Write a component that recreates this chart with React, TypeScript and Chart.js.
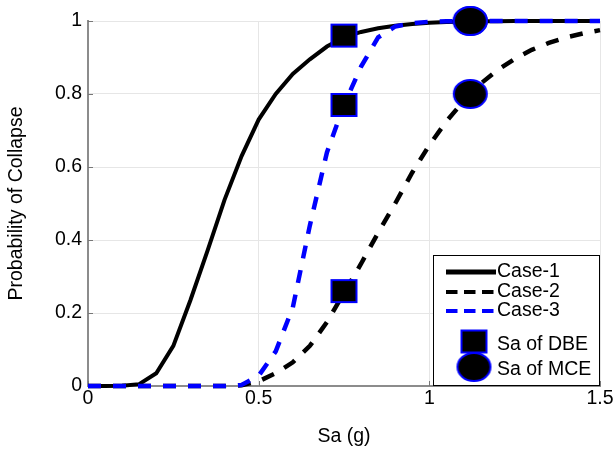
import React, { useEffect, useRef } from "react";
import { Chart, registerables } from "chart.js";

Chart.register(...registerables);

// ---- data ----
const saValues = [
  0, 0.05, 0.1, 0.15, 0.2, 0.25, 0.3, 0.35, 0.4, 0.45, 0.5, 0.55, 0.6, 0.65, 0.7, 0.75,
  0.8, 0.85, 0.9, 0.95, 1.0, 1.05, 1.1, 1.15, 1.2, 1.25, 1.3, 1.35, 1.4, 1.45, 1.5,
];
const case1 = [
  0, 0, 0.0005, 0.005, 0.035, 0.11, 0.235, 0.37, 0.51, 0.63, 0.73, 0.8, 0.855, 0.895, 0.93, 0.955,
  0.97, 0.98, 0.987, 0.992, 0.995, 0.997, 0.998, 0.999, 0.999, 1, 1, 1, 1, 1, 1,
];
const case2 = [
  0, 0, 0, 0, 0, 0, 0, 0, 0, 0.002, 0.013, 0.035, 0.065, 0.11, 0.175, 0.255,
  0.335, 0.42, 0.5, 0.585, 0.66, 0.725, 0.78, 0.828, 0.866, 0.896, 0.921, 0.94, 0.955, 0.966, 0.975,
];
const case3 = [
  0, 0, 0, 0, 0, 0, 0, 0, 0, 0.003, 0.028, 0.095, 0.215, 0.44, 0.64, 0.77,
  0.875, 0.955, 0.985, 0.994, 0.998, 0.999, 1, 1, 1, 1, 1, 1, 1, 1, 1,
];
const dbeSa = 0.75;
const dbeProb = [0.96, 0.26, 0.77];
const mceSa = 1.12;
const mceProb = [1.0, 0.8, 1.0];
const xTicks = [0, 0.5, 1, 1.5];
const yTicks = [0, 0.2, 0.4, 0.6, 0.8, 1];
const legendLabels = ["Case-1", "Case-2", "Case-3", "Sa of DBE", "Sa of MCE"];

const FONT = "'Liberation Sans', Arial, Helvetica, sans-serif";
const FS = 19.5;

function makeMarker(kind: "rect" | "ellipse", w: number, h: number) {
  const c = document.createElement("canvas");
  const pad = 2;
  c.width = w + pad * 2;
  c.height = h + pad * 2;
  const ctx = c.getContext("2d")!;
  ctx.fillStyle = "#000";
  ctx.strokeStyle = "#0000ff";
  ctx.lineWidth = 2;
  ctx.beginPath();
  if (kind === "rect") ctx.rect(pad, pad, w, h);
  else ctx.ellipse(c.width / 2, c.height / 2, w / 2, h / 2, 0, 0, Math.PI * 2);
  ctx.fill();
  ctx.stroke();
  return c;
}

const innerTicks = {
  id: "innerTicks",
  beforeDatasetsDraw(chart: any) {
    const { ctx, chartArea, scales } = chart;
    ctx.save();
    ctx.strokeStyle = "#777";
    ctx.lineWidth = 1;
    ctx.beginPath();
    for (const v of yTicks) {
      const y = Math.round(scales.y.getPixelForValue(v)) + 0.5;
      ctx.moveTo(chartArea.left, y);
      ctx.lineTo(chartArea.left + 5, y);
    }
    for (const v of xTicks) {
      const x = Math.round(scales.x.getPixelForValue(v)) + 0.5;
      ctx.moveTo(x, chartArea.bottom);
      ctx.lineTo(x, chartArea.bottom - 5);
    }
    ctx.stroke();
    ctx.restore();
  },
};

const boxLegend = {
  id: "boxLegend",
  afterDraw(chart: any) {
    const { ctx, chartArea } = chart;
    const W = 167;
    const H = 131;
    const L = chartArea.right - W;
    const T = chartArea.bottom - H;
    const rowY = [17, 37, 56, 86.5, 112];
    const textY = [16.5, 36.5, 56, 89.5, 115];
    ctx.save();
    ctx.fillStyle = "#fff";
    ctx.fillRect(L, T, W, H);
    ctx.strokeStyle = "#000";
    ctx.lineWidth = 1;
    ctx.strokeRect(L + 0.5, T + 0.5, W - 1, H - 1);
    legendLabels.forEach((label, i) => {
      const ds = chart.data.datasets.find((d: any) => d.label === label);
      const y = T + rowY[i];
      if (ds.showLine === false) {
        const img = ds.pointStyle as HTMLCanvasElement;
        ctx.drawImage(img, L + 41 - img.width / 2, y - img.height / 2);
      } else {
        ctx.beginPath();
        ctx.strokeStyle = ds.borderColor;
        const dashed = ds.borderDash && ds.borderDash.length;
        ctx.lineWidth = dashed ? 4 : 5;
        ctx.setLineDash(dashed ? [11.5, 6.5] : []);
        ctx.moveTo(L + 13, y);
        ctx.lineTo(L + (dashed ? 61 : 63), y);
        ctx.stroke();
        ctx.setLineDash([]);
      }
      ctx.fillStyle = "#000";
      ctx.font = `${FS}px ${FONT}`;
      ctx.textBaseline = "middle";
      ctx.textAlign = "left";
      ctx.fillText(label, L + 64, T + textY[i]);
    });
    ctx.restore();
  },
};

export default function App() {
  const ref = useRef<HTMLCanvasElement>(null);
  useEffect(() => {
    document.body.style.margin = "0";
    const sqImg = makeMarker("rect", 25, 22);
    const ciImg = makeMarker("ellipse", 33, 28);
    const toPts = (ys: number[]) => saValues.map((x, i) => ({ x, y: ys[i] }));
    const chart = new Chart(ref.current!, {
      type: "line",
      data: {
        datasets: [
          {
            label: "Sa of DBE",
            data: dbeProb.map((p) => ({ x: dbeSa, y: p })),
            showLine: false,
            pointStyle: sqImg as any,
            pointRadius: 12,
            order: 0,
          },
          {
            label: "Sa of MCE",
            data: mceProb.map((p) => ({ x: mceSa, y: p })),
            showLine: false,
            pointStyle: ciImg as any,
            pointRadius: 15,
            order: 0,
          },
          {
            label: "Case-3",
            data: toPts(case3),
            borderColor: "#0000ff",
            borderWidth: 4.5,
            borderDash: [13, 12],
            borderCapStyle: "butt",
            pointRadius: 0,
            order: 1,
          },
          {
            label: "Case-2",
            data: toPts(case2),
            borderColor: "#000000",
            borderWidth: 4.5,
            borderDash: [13, 12],
            borderCapStyle: "butt",
            pointRadius: 0,
            order: 2,
          },
          {
            label: "Case-1",
            data: toPts(case1),
            borderColor: "#000000",
            borderWidth: 4,
            pointRadius: 0,
            order: 3,
          },
        ] as any,
      },
      options: {
        responsive: false,
        animation: false,
        events: [],
        clip: false as any,
        elements: { line: { tension: 0 } },
        layout: { autoPadding: false, padding: { top: 21, right: 13, left: 0, bottom: 0 } },
        plugins: { legend: { display: false }, tooltip: { enabled: false } },
        scales: {
          x: {
            type: "linear",
            min: 0,
            max: 1.5,
            afterBuildTicks: (s: any) => {
              s.ticks = xTicks.map((v) => ({ value: v }));
            },
            afterFit: (s: any) => {
              s.height = 66;
              s.paddingLeft = 0;
              s.paddingRight = 0;
            },
            grid: { color: "#e6e6e6", lineWidth: 1, drawTicks: false },
            border: { color: "#8c8c8c", width: 2 },
            ticks: {
              autoSkip: false,
              maxRotation: 0,
              padding: 1,
              color: "#000",
              font: { family: FONT, size: FS, lineHeight: 1.2 },
              callback: (v: any) => String(v),
            },
            title: {
              display: true,
              text: "Sa (g)",
              color: "#000",
              font: { family: FONT, size: FS, lineHeight: 1.2 },
              padding: { top: 0, bottom: 3.3 },
            },
          },
          y: {
            type: "linear",
            min: 0,
            max: 1,
            afterBuildTicks: (s: any) => {
              s.ticks = yTicks.map((v) => ({ value: v }));
            },
            afterFit: (s: any) => {
              s.width = 88;
              s.paddingTop = 0;
              s.paddingBottom = 0;
            },
            grid: { color: "#e6e6e6", lineWidth: 1, drawTicks: false },
            border: { color: "#8c8c8c", width: 2 },
            ticks: {
              padding: 6,
              color: "#000",
              font: { family: FONT, size: FS, lineHeight: 1.2 },
              callback: (v: any) => String(v),
            },
            title: {
              display: true,
              text: "Probability of Collapse",
              color: "#000",
              font: { family: FONT, size: FS, lineHeight: 1.2 },
              padding: { top: 5.3, bottom: 0 },
            },
          },
        },
      } as any,
      plugins: [innerTicks, boxLegend],
    });
    return () => chart.destroy();
  }, []);
  return (
    <div style={{ width: 613, height: 452 }}>
      <canvas ref={ref} width={613} height={452} style={{ display: "block" }} />
    </div>
  );
}
